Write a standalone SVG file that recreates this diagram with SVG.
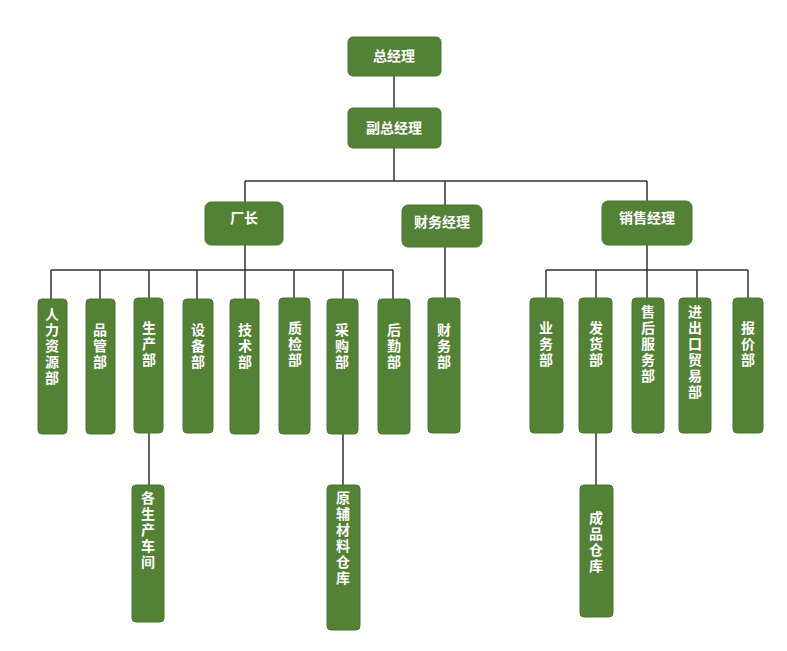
<svg xmlns="http://www.w3.org/2000/svg" width="787" height="651" viewBox="0 0 787 651">
<style>
rect{fill:#538135;stroke:#4a7530;stroke-width:1}
text{fill:#fff;font-family:"Noto Sans CJK SC",sans-serif;font-size:14px;font-weight:bold;text-anchor:middle}
text.v{writing-mode:vertical-rl;text-orientation:upright;text-anchor:start;letter-spacing:2px}
.c{stroke:#333;stroke-width:1.5;fill:none}
</style>
<rect width="787" height="651" style="fill:#fff;stroke:none"/>
<g id="connectors" class="c">
<path d="M394 76V108M394 148V181M245 181H647M245 181V202M445 181V205M647 181V201"/>
<path d="M245 245V270M51 270H393M51 270V299M100 270V299M149 270V299M197 270V299M245 270V299M294 270V299M343 270V299M393 270V299"/>
<path d="M445 247V298M647 245V270M546 270H748M546 270V298M596 270V298M647 270V298M697 270V298M748 270V298"/>
<path d="M149 433V485M343 433V485M596 433V485"/>
</g>
<g id="n0"><rect x="348" y="37" width="93" height="39" rx="5"/><text x="394" y="61">总经理</text></g>
<g id="n1"><rect x="348" y="108" width="93" height="40" rx="5"/><text x="394" y="133">副总经理</text></g>
<g id="n2"><rect x="205" y="202" width="78" height="43" rx="6"/><text x="244" y="223">厂长</text></g>
<g id="n3"><rect x="402" y="205" width="80" height="42" rx="6"/><text x="442" y="227">财务经理</text></g>
<g id="n4"><rect x="602" y="201" width="90" height="44" rx="6"/><text x="647" y="223">销售经理</text></g>
<g id="d1"><rect x="38" y="299" width="29" height="135" rx="4"/><text class="v" x="52" y="307">人力资源部</text></g>
<g id="d2"><rect x="86" y="299" width="29" height="135" rx="4"/><text class="v" x="100" y="323">品管部</text></g>
<g id="d3"><rect x="134" y="298" width="29" height="135" rx="4"/><text class="v" x="149" y="321">生产部</text></g>
<g id="d4"><rect x="183" y="299" width="30" height="134" rx="4"/><text class="v" x="198" y="323">设备部</text></g>
<g id="d5"><rect x="230" y="299" width="29" height="135" rx="4"/><text class="v" x="245" y="323">技术部</text></g>
<g id="d6"><rect x="279" y="298" width="31" height="136" rx="4"/><text class="v" x="295" y="321">质检部</text></g>
<g id="d7"><rect x="327" y="299" width="31" height="135" rx="4"/><text class="v" x="342" y="323">采购部</text></g>
<g id="d8"><rect x="378" y="299" width="32" height="135" rx="4"/><text class="v" x="394" y="323">后勤部</text></g>
<g id="d9"><rect x="428" y="298" width="32" height="135" rx="4"/><text class="v" x="444" y="323">财务部</text></g>
<g id="d10"><rect x="530" y="298" width="33" height="135" rx="4"/><text class="v" x="546" y="321">业务部</text></g>
<g id="d11"><rect x="579" y="298" width="33" height="135" rx="4"/><text class="v" x="596" y="321">发货部</text></g>
<g id="d12"><rect x="632" y="298" width="32" height="135" rx="4"/><text class="v" x="648" y="305">售后服务部</text></g>
<g id="d13"><rect x="679" y="298" width="32" height="135" rx="4"/><text class="v" x="695" y="305">进出口贸易部</text></g>
<g id="d14"><rect x="733" y="298" width="30" height="135" rx="4"/><text class="v" x="748" y="321">报价部</text></g>
<g id="e1"><rect x="132" y="485" width="32" height="137" rx="4"/><text class="v" x="148" y="491">各生产车间</text></g>
<g id="e2"><rect x="327" y="485" width="33" height="145" rx="4"/><text class="v" x="343" y="491">原辅材料仓库</text></g>
<g id="e3"><rect x="580" y="485" width="33" height="132" rx="4"/><text class="v" x="596" y="511">成品仓库</text></g>
</svg>
